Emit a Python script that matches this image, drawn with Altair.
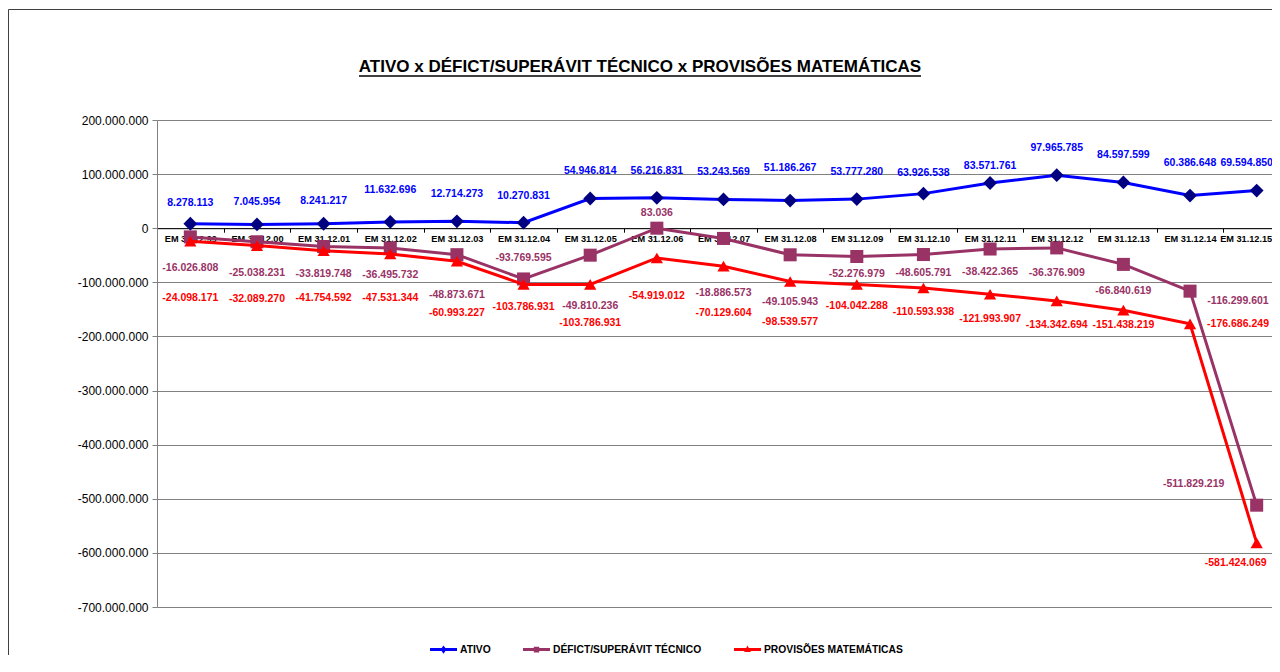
import altair as alt
import pandas as pd

# ---------------- data ----------------
categories = [
    "EM 31.12.99", "EM 31.12.00", "EM 31.12.01", "EM 31.12.02", "EM 31.12.03",
    "EM 31.12.04", "EM 31.12.05", "EM 31.12.06", "EM 31.12.07", "EM 31.12.08",
    "EM 31.12.09", "EM 31.12.10", "EM 31.12.11", "EM 31.12.12", "EM 31.12.13",
    "EM 31.12.14", "EM 31.12.15",
]
series_names = ["ATIVO", "DÉFICT/SUPERÁVIT TÉCNICO", "PROVISÕES MATEMÁTICAS"]

ativo = [8278113, 7045954, 8241217, 11632696, 12714273, 10270831, 54946814,
         56216831, 53243569, 51186267, 53777280, 63926538, 83571761, 97965785,
         84597599, 60386648, 69594850]
deficit = [-16026808, -25038231, -33819748, -36495732, -48873671, -93769595,
           -49810236, 83036, -18886573, -49105943, -52276979, -48605791,
           -38422365, -36376909, -66840619, -116299601, -511829219]
provisoes = [-24098171, -32089270, -41754592, -47531344, -60993227, -103786931,
             -103786931, -54919012, -70129604, -98539577, -104042288, -110593938,
             -121993907, -134342694, -151438219, -176686249, -581424069]

y_ticks = [-700000000, -600000000, -500000000, -400000000, -300000000,
           -200000000, -100000000, 0, 100000000, 200000000]

title_text = "ATIVO x DÉFICT/SUPERÁVIT TÉCNICO x PROVISÕES MATEMÁTICAS"

# ---------------- styles ----------------
FONT = "Liberation Sans"
line_colors = ["#0000FF", "#993366", "#FF0000"]
marker_colors = ["#000080", "#993366", "#FF0000"]
label_colors = ["#0000FF", "#993366", "#FF0000"]
marker_shapes = ["diamond", "square", "triangle-up"]
marker_sizes = [190, 170, 150]
legend_paths = [
    "M-1,-0.11H1V0.11H-1Z M0,-0.3L0.22,0L0,0.3L-0.22,0Z",
    "M-1,-0.11H1V0.11H-1Z M-0.2,-0.22H0.2V0.22H-0.2Z",
    "M-1,-0.11H1V0.11H-1Z M0,-0.3L0.25,0.18H-0.25Z",
]

# label placement (pixel nudges, as in the reference layout)
default_offset = {
    "ATIVO": (0, -27),
    "DÉFICT/SUPERÁVIT TÉCNICO": (0, 27),
    "PROVISÕES MATEMÁTICAS": (0, 50),
}
D, P, A = series_names[1], series_names[2], series_names[0]
nudges = {
    (A, "EM 31.12.99"): (0, -21), (A, "EM 31.12.00"): (0, -22),
    (A, "EM 31.12.01"): (0, -23), (A, "EM 31.12.02"): (0, -32),
    (A, "EM 31.12.10"): (0, -21), (A, "EM 31.12.11"): (0, -17),
    (A, "EM 31.12.08"): (0, -33), (A, "EM 31.12.14"): (0, -33),
    (A, "EM 31.12.15"): (-10, -28),
    (D, "EM 31.12.99"): (0, 31), (D, "EM 31.12.00"): (0, 31),
    (D, "EM 31.12.03"): (0, 40), (D, "EM 31.12.04"): (0, -21),
    (D, "EM 31.12.05"): (0, 51), (D, "EM 31.12.06"): (0, -15),
    (D, "EM 31.12.07"): (0, 55), (D, "EM 31.12.08"): (0, 47),
    (D, "EM 31.12.09"): (0, 17), (D, "EM 31.12.10"): (0, 18),
    (D, "EM 31.12.11"): (0, 23), (D, "EM 31.12.12"): (0, 25),
    (D, "EM 31.12.14"): (48, 10), (D, "EM 31.12.15"): (-63, -21),
    (P, "EM 31.12.99"): (0, 57), (P, "EM 31.12.00"): (0, 53),
    (P, "EM 31.12.01"): (0, 47), (P, "EM 31.12.02"): (0, 44),
    (P, "EM 31.12.03"): (0, 52), (P, "EM 31.12.04"): (0, 23),
    (P, "EM 31.12.05"): (0, 39), (P, "EM 31.12.06"): (0, 38),
    (P, "EM 31.12.07"): (0, 47), (P, "EM 31.12.08"): (0, 40),
    (P, "EM 31.12.09"): (0, 21), (P, "EM 31.12.10"): (0, 24),
    (P, "EM 31.12.11"): (0, 25), (P, "EM 31.12.12"): (0, 24),
    (P, "EM 31.12.13"): (0, 15), (P, "EM 31.12.14"): (48, 0),
    (P, "EM 31.12.15"): (-21, 20),
}


def fmt(v):
    s = f"{abs(v):,}".replace(",", ".")
    return ("-" if v < 0 else "") + s


rows = []
for s, vals in zip(series_names, [ativo, deficit, provisoes]):
    for c, v in zip(categories, vals):
        dx, dy = nudges.get((s, c), default_offset[s])
        rows.append({"cat": c, "series": s, "value": v, "label": fmt(v),
                     "ldx": dx, "ldy": dy})
df = pd.DataFrame(rows)

# ---------------- scales / axes ----------------
W, H = 1115, 487
last_cat = categories[-1]
x_enc = alt.X(
    "cat:N", sort=categories,
    scale=alt.Scale(type="band", domain=categories, range=[0, 1133],
                    paddingInner=0, paddingOuter=0),
    axis=alt.Axis(orient="bottom", offset=-378.8, title=None, labelAngle=0,
                  domainColor="black", domainWidth=1, tickColor="black",
                  tickSize=4, tickBand="extent", labelFont=FONT,
                  labelFontSize=9.2, labelFontWeight="bold", labelColor="black",
                  labelPadding=2, labelOverlap=False, labelBound=False,
                  labelOffset={"condition": {"test": f"datum.value === '{last_cat}'",
                                             "value": -11}, "value": 0},
                  grid=False),
)
y_enc = alt.Y(
    "value:Q",
    scale=alt.Scale(domain=[-700000000, 200000000], nice=False, zero=False),
    axis=alt.Axis(values=y_ticks, title=None, grid=True, gridColor="#808080",
                  gridWidth=1, domainColor="#808080", tickColor="#808080",
                  tickSize=5, labelFont=FONT, labelFontSize=12,
                  labelColor="black", labelPadding=4,
                  labelExpr="(datum.value < 0 ? '-' : '') + replace(format(abs(datum.value), ','), regexp(',', 'g'), '.')"),
)

base = alt.Chart(df)
layers = []
for i, s in enumerate(series_names):
    sub = base.transform_filter(alt.datum.series == s)
    layers.append(sub.mark_line(color=line_colors[i], strokeWidth=3).encode(x=x_enc, y=y_enc))
    layers.append(sub.mark_point(shape=marker_shapes[i], filled=True, opacity=1,
                                 size=marker_sizes[i], color=marker_colors[i],
                                 strokeWidth=0).encode(x=x_enc, y=y_enc))
for i, s in enumerate(series_names):
    sub = base.transform_filter(alt.datum.series == s)
    layers.append(sub.mark_text(font=FONT, fontSize=10.5, fontWeight="bold",
                                color=label_colors[i], align="center",
                                baseline="middle",
                                dx=alt.ExprRef(expr="datum.ldx"),
                                dy=alt.ExprRef(expr="datum.ldy")).encode(
        x=x_enc, y=y_enc, text="label:N"))

legend = alt.Legend(title=None, orient="none", legendX=273, legendY=516,
                    direction="horizontal", symbolSize=729, symbolStrokeWidth=0,
                    symbolOpacity=1, labelFont=FONT, labelFontSize=10.3,
                    labelFontWeight="bold", labelColor="black", labelOffset=3,
                    columnPadding=32, padding=0)
legend_layer = base.transform_filter("false").mark_point(filled=True, opacity=1).encode(
    shape=alt.Shape("series:N", scale=alt.Scale(domain=series_names, range=legend_paths),
                    legend=legend),
    color=alt.Color("series:N", scale=alt.Scale(domain=series_names, range=line_colors),
                    legend=legend),
)
layers.append(legend_layer)

one = pd.DataFrame({"t": [title_text]})
title_layer = alt.Chart(one).mark_text(font=FONT, fontSize=17, fontWeight="bold",
                                       color="black", align="center",
                                       baseline="alphabetic").encode(
    text="t:N", x=alt.value(483), y=alt.value(-48))
underline = alt.Chart(one).mark_rule(color="black", strokeWidth=1.5).encode(
    x=alt.value(202), x2=alt.value(764), y=alt.value(-44))
border = alt.Chart(one).mark_rect(fillOpacity=0, stroke="#404040", strokeWidth=1).encode(
    x=alt.value(-148.5), x2=alt.value(1300), y=alt.value(-110.5), y2=alt.value(700))
layers += [title_layer, underline, border]

chart = alt.layer(*layers).properties(
    width=W, height=H,
    autosize=alt.AutoSizeParams(type="none"),
    padding={"left": 149, "top": 112, "right": 0, "bottom": 48},
    background="white",
).configure_view(stroke=None)

chart.save("out.html", embed_options={"renderer": "svg", "actions": False})
